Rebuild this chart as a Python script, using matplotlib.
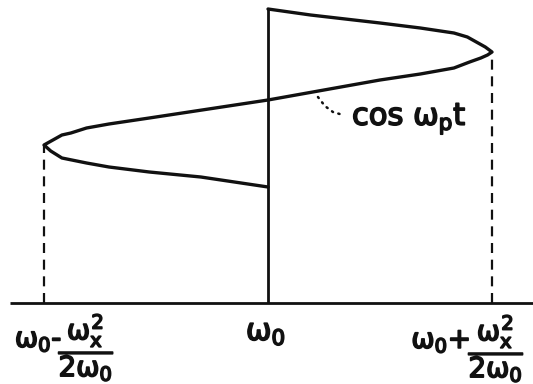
#!/usr/bin/env python3
# -*- coding: utf-8 -*-
"""Sideways cosine sweep of the instantaneous frequency about w0."""
import matplotlib
matplotlib.use("Agg")
import matplotlib.pyplot as plt
import matplotlib.patheffects as pe

plt.rcParams["mathtext.fontset"] = "custom"
plt.rcParams["mathtext.rm"] = "DejaVu Sans"
plt.rcParams["mathtext.it"] = "DejaVu Sans"
plt.rcParams["mathtext.bf"] = "DejaVu Sans:bold"

# frequency offset in units of wx^2 / 2w0, time running downward from the top
curve_x = [0.0, 0.19, 0.50, 0.68, 0.83, 0.89, 0.93, 0.97, 1.0,
           0.98, 0.95, 0.90, 0.83, 0.68, 0.50, 0.0,
           -0.53, -0.71, -0.81, -0.88, -0.92, -0.96, -1.0,
           -0.97, -0.92, -0.81, -0.71, -0.53, -0.30, 0.0]
curve_y = [294, 288, 280, 275, 270, 266, 261, 256, 251,
           248, 245, 241, 235, 229, 223, 203,
           185, 179, 175, 170, 168, 163, 158,
           152, 145, 140, 136, 131, 126, 116]

tick_x = [-1.0, 0.0, 1.0]
tick_heads = [r"$\omega_0$-", r"$\omega_0$", r"$\omega_0$+"]
tick_frac = r"$\dfrac{\omega_x^2}{2\omega_0}$"
tip_y = [158, 251]
top_y = 294

leader_x = [0.223, 0.254, 0.29, 0.335]
leader_y = [206, 197, 191, 188]
curve_label = r"cos $\omega_p$t"

fig = plt.figure(figsize=(5.33, 3.84), dpi=100)
ax = fig.add_axes([0, 0, 1, 1])
ax.set_xlim(-268 / 224, 265 / 224)
ax.set_ylim(-81, 303)
ax.axis("off")

ink = "#111111"
thick = [pe.withStroke(linewidth=1.2, foreground=ink)]

# frequency axis and the carrier line
ax.plot([-1.15, 1.2], [0, 0], color=ink, lw=2.0, solid_capstyle="butt")
ax.plot([0, 0], [0, top_y], color=ink, lw=2.0, solid_capstyle="butt")

ax.plot(curve_x, curve_y, color=ink, lw=2.4, solid_joinstyle="round",
        solid_capstyle="round")

# dashed drops from the turning points
for xv, yv in zip([tick_x[0], tick_x[2]], tip_y):
    ax.plot([xv, xv], [0, yv], color=ink, lw=1.6, linestyle=(0, (4.5, 3)))

ax.plot(leader_x, leader_y, color=ink, lw=1.8, linestyle=(0, (0.5, 2.2)),
        dash_capstyle="round")
ax.text(0.375, 178, curve_label, fontsize=22, color=ink, ha="left",
        va="baseline", path_effects=thick)

# tick labels under the axis
ax.text(-1.13, -44, tick_heads[0], fontsize=20, color=ink, ha="left",
        va="baseline", path_effects=thick)
ax.text(-0.935, -44, tick_frac, fontsize=20, color=ink, ha="left",
        va="center", path_effects=thick)
ax.text(-0.01, -37, tick_heads[1], fontsize=22, color=ink, ha="center",
        va="baseline", path_effects=thick)
ax.text(0.64, -45, tick_heads[2], fontsize=20, color=ink, ha="left",
        va="baseline", path_effects=thick)
ax.text(0.895, -45, tick_frac, fontsize=20, color=ink, ha="left",
        va="center", path_effects=thick)

fig.savefig("out.png", dpi=100, facecolor="white")
